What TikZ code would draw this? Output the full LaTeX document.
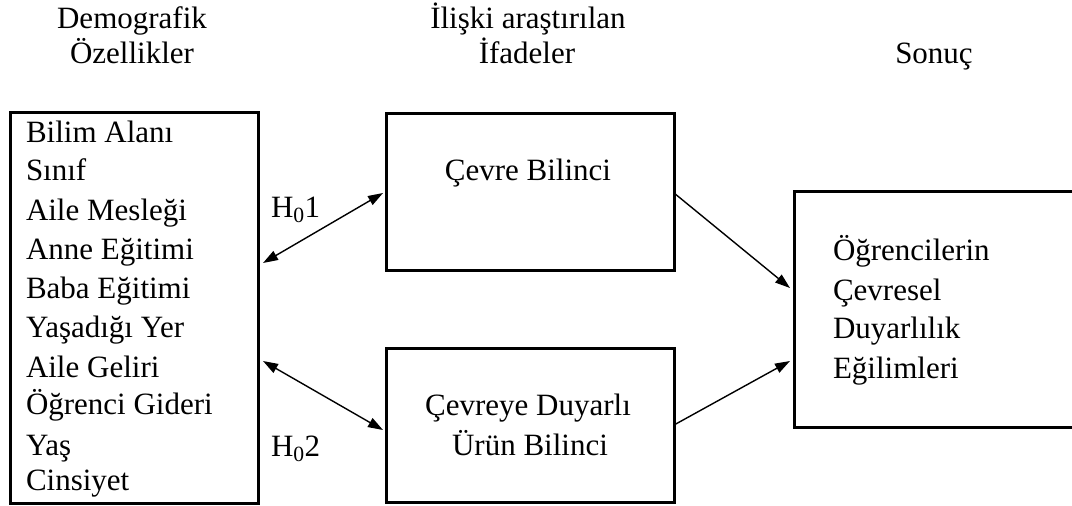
\documentclass[tikz,border=0pt]{standalone}
\usepackage{fontspec}
\setmainfont{Liberation Serif}
\usetikzlibrary{arrows.meta}
\begin{document}
\begin{tikzpicture}[x=1pt,y=1pt,
  every node/.style={font=\fontsize{31}{38}\selectfont, inner sep=0pt, outer sep=0pt},
  boxnode/.style={draw, line width=3pt, rectangle},
  txt/.style={anchor=base west},
  ctxt/.style={anchor=base},
  conn/.style={line width=1.4pt, -{Triangle[length=15pt,width=10pt]}},
  biconn/.style={line width=1.4pt, {Triangle[length=15pt,width=10pt]}-{Triangle[length=15pt,width=10pt]}}]
\useasboundingbox (0,0) rectangle (1072,-506);
% boxes
\node[boxnode, minimum width=248, minimum height=391] (left) at (134,-307.5) {};
\node[boxnode, minimum width=288, minimum height=157] (top) at (530,-191.5) {};
\node[boxnode, minimum width=288, minimum height=154] (bot) at (530,-425) {};
\node[boxnode, minimum width=279, minimum height=236] (right) at (933.5,-309) {};
% headers
\node[ctxt] (h1a) at (132,-28) {Demografik};
\node[ctxt] (h1b) at (132,-63) {Özellikler};
\node[ctxt] (h2a) at (528,-28) {İlişki araştırılan};
\node[ctxt] (h2b) at (527,-63) {İfadeler};
\node[ctxt] (h3) at (934,-63) {Sonuç};
% left list
\node[txt] (l1) at (26,-142) {Bilim Alanı};
\node[txt] (l2) at (26,-180) {Sınıf};
\node[txt] (l3) at (26,-220) {Aile Mesleği};
\node[txt] (l4) at (26,-259) {Anne Eğitimi};
\node[txt] (l5) at (26,-298) {Baba Eğitimi};
\node[txt] (l6) at (26,-337) {Yaşadığı Yer};
\node[txt] (l7) at (26,-377) {Aile Geliri};
\node[txt] (l8) at (26,-414) {Öğrenci Gideri};
\node[txt] (l9) at (26,-455) {Yaş};
\node[txt] (l10) at (26,-490) {Cinsiyet};
% middle texts
\node[ctxt] (t1) at (528,-180) {Çevre Bilinci};
\node[ctxt] (b1) at (528,-415) {Çevreye Duyarlı};
\node[ctxt] (b2) at (530,-455) {Ürün Bilinci};
% right texts
\node[txt] (r1) at (833,-260) {Öğrencilerin};
\node[txt] (r2) at (833,-300) {Çevresel};
\node[txt] (r3) at (833,-338) {Duyarlılık};
\node[txt] (r4) at (833,-378) {Eğilimleri};
% hypothesis labels
\node[txt] (hy1) at (271,-217) {H\textsubscript{0}1};
\node[txt] (hy2) at (271,-456) {H\textsubscript{0}2};
% connectors
\draw[biconn] ([shift={(5,44.5)}]left.east) -- ([shift={(-3,-1.5)}]top.west);
\draw[biconn] ([shift={(5,-53.5)}]left.east) -- ([shift={(-3,-5)}]bot.west);
\draw[conn] ([shift={(0,-1.5)}]top.east) -- ([shift={(-4,21)}]right.west);
\draw[conn] (bot.east) -- ([shift={(-4,-52)}]right.west);
\end{tikzpicture}
\end{document}
